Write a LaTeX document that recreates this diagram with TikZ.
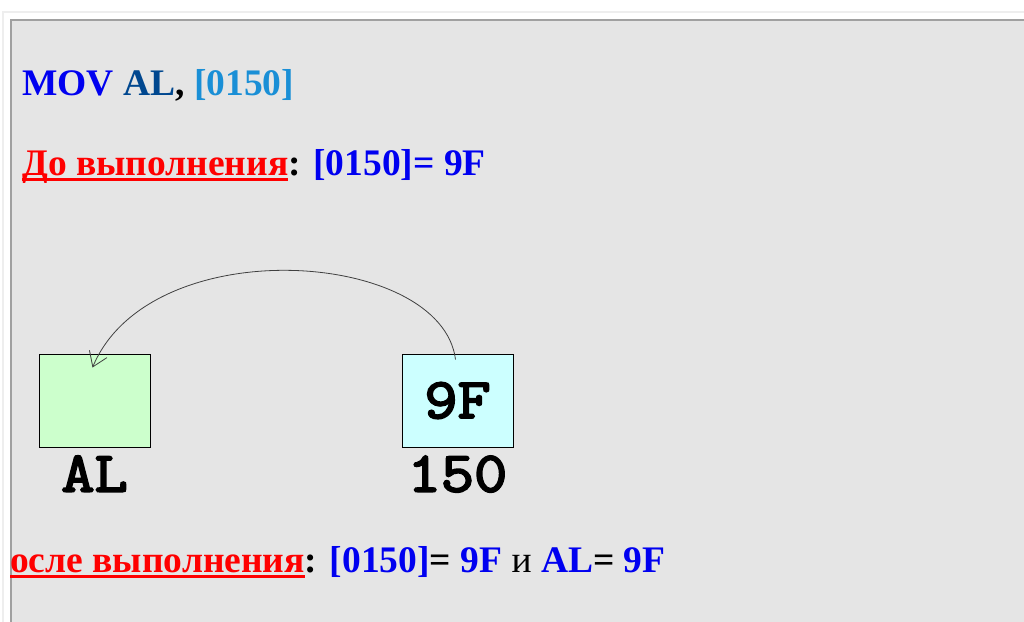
\documentclass[tikz,border=0pt]{standalone}
\usepackage{fontspec}
\setmainfont{Liberation Serif}
\newfontfamily\cellfont[FakeBold=3.5, FakeStretch=1.13]{Latin Modern Mono}
\usetikzlibrary{positioning, arrows.meta}

\definecolor{panelgray}{HTML}{E5E5E5}
\definecolor{panelline}{HTML}{A0A0A0}
\definecolor{outerline}{HTML}{EEEEEE}
\definecolor{opblue}{HTML}{0000F0}
\definecolor{regblue}{HTML}{00478F}
\definecolor{addrblue}{HTML}{1A8FD6}
\definecolor{regfill}{HTML}{CCFFCC}
\definecolor{memfill}{HTML}{CCFFFF}

\newcommand{\redul}[1]{\setbox0\hbox{#1}\rlap{\color{red}\rule[-6pt]{\wd0}{3pt}}\box0}

\tikzstyle{textline} = [anchor=base west, inner sep=0pt,
font=\fontsize{37.5}{44}\selectfont\bfseries]
\tikzstyle{cellbox} = [rectangle, draw=black, line width=1pt,
minimum width=111pt,
minimum height=93pt,
inner sep=0pt,
font=\fontsize{57}{62}\cellfont]
\tikzstyle{lbl} = [anchor=base, inner sep=0pt,
font=\fontsize{57}{62}\cellfont]
\tikzstyle{arrow} = [line width=0.8pt, draw=black!75,
-{Straight Barb[length=14pt, width=19pt]}]

\begin{document}
\begin{tikzpicture}[x=1pt, y=-1pt]
\useasboundingbox (0,0) rectangle (1024,621);
\fill[white] (0,0) rectangle (1024,621);

% panel
\draw[outerline, line width=1.5pt] (3,630) -- (3,12) -- (1030,12);
\filldraw[fill=panelgray, draw=panelline, line width=2pt] (11,630) -- (11,20) -- (1030,20) -- (1030,630);

\node (cmd) [textline] at (22,95) {\color{opblue}MOV \color{regblue}AL\color{black}, \color{addrblue}[0150]};
\node (before) [textline] at (22,175) {\color{red}\redul{До выполнения}\color{black}: \color{opblue}[0150]= 9F};

\node (albox) [cellbox, fill=regfill] at (94.5,400.5) {};
\node (mem) [cellbox, fill=memfill, right=251pt of albox] {9F};

\node (allbl) [lbl] at ([yshift=-44pt]albox.south) {AL};
\node (memlbl) [lbl] at ([yshift=-44pt]mem.south) {150};

\draw [arrow] ([xshift=-2pt, yshift=-6pt]mem.north) .. controls +(-14,-110) and +(58,-138) .. ([xshift=-2pt, yshift=-14pt]albox.north);

\node (after) [textline] at (10,572) {\color{red}\redul{осле выполнения}\color{black}: \color{opblue}[0150]\color{black}= \color{opblue}9F \color{black}\mdseries и \bfseries\color{opblue}AL\color{black}= \color{opblue}9F};

\end{tikzpicture}
\end{document}
